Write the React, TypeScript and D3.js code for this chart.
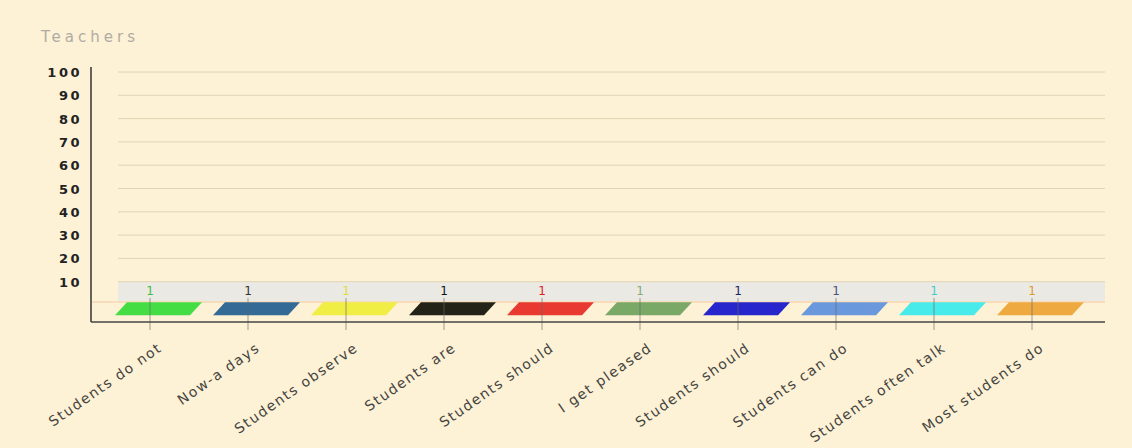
import React from "react";
import * as d3 from "d3";

const categories = [
  "Students do not",
  "Now-a days",
  "Students observe",
  "Students are",
  "Students should",
  "I get pleased",
  "Students should",
  "Students can do",
  "Students often talk",
  "Most students do",
];
const values = [1, 1, 1, 1, 1, 1, 1, 1, 1, 1];
const barColors = [
  "#44dd44", "#336a96", "#f0ee44", "#232318", "#e83a30",
  "#7aa866", "#2626cc", "#6a98dc", "#48eaea", "#eeaa40",
];
const labelColors = [
  "#44bb44", "#333333", "#dddd44", "#111111", "#dd2222",
  "#88aa77", "#222266", "#445577", "#44cccc", "#dd9933",
];
const yTicks = [10, 20, 30, 40, 50, 60, 70, 80, 90, 100];
const title = "Teachers";

export default function App() {
  const W = 1132, H = 448;
  const y = d3.scaleLinear().domain([0, 100]).range([305, 72]);
  const x = d3.scaleBand<number>().domain(d3.range(categories.length)).range([101, 1081]);
  const bw = x.bandwidth();
  const axisLeft = 91, axisBottom = 322, right = 1105, depthX = 27;
  const barDepthY = 13, barSkew = 12;
  return (
    <svg width={W} height={H} style={{ position: "absolute", left: 0, top: 0 }}>
      <rect x={0} y={0} width={W} height={H} fill="#fdf1d6" />
      <text x={41} y={42} fontFamily="DejaVu Sans" fontSize={15} fill="#b0aca4" letterSpacing={4}>{title}</text>
      {/* gray floor band */}
      <rect x={axisLeft + depthX} y={y(10)} width={right - axisLeft - depthX} height={301 - y(10)} fill="#ebe9e4" />
      <line x1={axisLeft + 1} x2={right} y1={302} y2={302} stroke="#f2c9a0" strokeWidth={1.2} />
      {/* gridlines */}
      {yTicks.map((t) => (
        <line key={t} x1={axisLeft + depthX} x2={right} y1={y(t)} y2={y(t)} stroke="#e2d4b2" strokeWidth={1} />
      ))}
      {/* y tick labels */}
      {yTicks.map((t) => (
        <text key={t} x={82} y={y(t) + 5} textAnchor="end" fontFamily="DejaVu Sans" fontWeight="bold" fontSize={13} fill="#222" letterSpacing={2.5}>{t}</text>
      ))}
      {/* bars */}
      {values.map((v, i) => {
        const c = (x(i) as number) + bw / 2;
        const backY = y(v) - 0.5;
        const frontY = backY + barDepthY;
        const l = c - 35, r = c + 40;
        const p = d3.path();
        p.moveTo(l, frontY);
        p.lineTo(r, frontY);
        p.lineTo(r + barSkew, backY);
        p.lineTo(l + barSkew, backY);
        p.closePath();
        return (
          <g key={i}>
            <path d={p.toString()} fill={barColors[i]} />
            <line x1={c} x2={c} y1={298} y2={330} stroke="#666" strokeWidth={0.9} opacity={0.7} />
            <text x={c} y={295} textAnchor="middle" fontFamily="DejaVu Sans" fontSize={12} fill={labelColors[i]}>{v}</text>
          </g>
        );
      })}
      {/* axes */}
      <line x1={axisLeft} x2={axisLeft} y1={67} y2={axisBottom} stroke="#333" strokeWidth={1.5} />
      <line x1={axisLeft} x2={right} y1={axisBottom} y2={axisBottom} stroke="#444" strokeWidth={1.5} />
      {/* x labels */}
      {categories.map((cat, i) => {
        const c = (x(i) as number) + bw / 2;
        return (
          <text key={i} transform={`translate(${c + 13},${350}) rotate(-35)`} textAnchor="end" fontFamily="DejaVu Sans" fontSize={14} fill="#444440" letterSpacing={1.5}>{cat}</text>
        );
      })}
    </svg>
  );
}
